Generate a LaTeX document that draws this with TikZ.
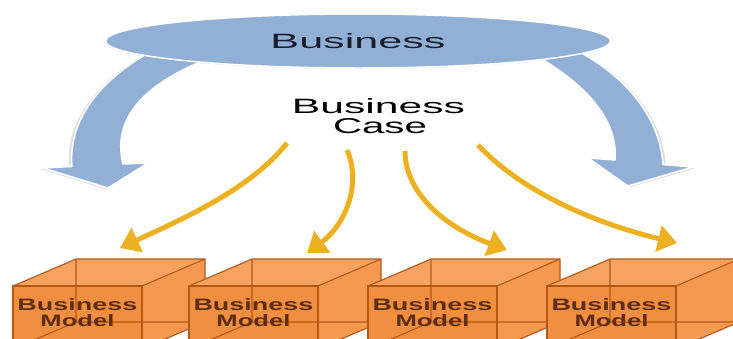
\documentclass[tikz,border=0pt]{standalone}
\usepackage{fontspec}
\setmainfont{Liberation Sans}
\usetikzlibrary{arrows.meta,shadows,shapes.geometric}
\definecolor{bizblue}{RGB}{146,176,213}
\definecolor{caseyellow}{RGB}{236,176,32}
\definecolor{boxorange}{RGB}{242,142,64}
\definecolor{boxtop}{RGB}{246,162,96}
\definecolor{boxside}{RGB}{245,152,80}
\definecolor{boxedge}{RGB}{180,88,24}
\definecolor{boxtext}{RGB}{95,45,20}
\definecolor{titletext}{RGB}{25,30,45}

\begin{document}
\begin{tikzpicture}[x=1pt,y=-1pt,
  bluearrow/.style={fill=bizblue,draw=white,line width=1.5pt,line join=round},
  caselink/.style={draw=caseyellow,line width=5pt,
    -{Triangle[width=26pt,length=19pt]}},
  facefill/.style={fill=#1},
  cubeedge/.style={draw=boxedge,line width=1.1pt},
  hiddenedge/.style={draw=boxedge,line width=1.1pt},
  boxlabel/.style={inner sep=0pt,anchor=base,text=boxtext,font=\bfseries},
  caselabel/.style={inner sep=0pt,anchor=base,text=black}]
\useasboundingbox (0,0) rectangle (733,338);
\clip (0,0) rectangle (733,338);

% curved blue arrows leaving the business ellipse
\path[bluearrow,drop shadow={opacity=0.25,shadow xshift=-3pt,shadow yshift=-1pt}]
  (150,52) .. controls (100,80) and (68,120) .. (72,166.5)
  -- (43,168) -- (108,188) -- (148,163) -- (123,164)
  .. controls (113,125) and (135,88) .. (205,60) -- cycle;
\path[bluearrow,drop shadow={opacity=0.25,shadow xshift=3pt,shadow yshift=-1pt}]
  (540,58) .. controls (590,88) and (618,122) .. (615,160)
  -- (588,158) -- (628,186) -- (693,167) -- (663,164.5)
  .. controls (660,120) and (630,80) .. (580,52) -- cycle;

% business ellipse
\node[ellipse,fill=bizblue,draw=white,line width=1.5pt,
  minimum width=505pt,minimum height=54pt,inner sep=0pt,
  drop shadow={opacity=0.2,shadow xshift=-1pt,shadow yshift=-1pt},
  text=titletext] (biz) at (358,41) {\resizebox{175pt}{15pt}{Business}};

% business case label
\node[caselabel] (case) at (378.5,113) {\resizebox{173pt}{15pt}{Business}};
\node[caselabel] (case2) at (380,133) {\resizebox{94pt}{15pt}{Case}};

% see-through cubes for the business models
\foreach \i/\L in {1/13,2/189,3/368,4/547} {
  \begin{scope}[shift={(\L,286)}]
    \path[facefill=boxtop] (0,0) -- (63,-27) -- (192,-27) -- (129,0) -- cycle;
    \path[facefill=boxside] (129,0) -- (192,-27) -- (192,36) -- (129,63) -- cycle;
    \path[facefill=boxorange] (0,0) rectangle (129,63);
    % back edges, visible through the faces
    \path[hiddenedge] (63,-27) -- (63,36) -- (192,36) (0,63) -- (63,36);
    % outer edges
    \path[cubeedge] (0,0) -- (63,-27) -- (192,-27) -- (192,36) -- (129,63)
      (129,0) -- (192,-27);
    \path[cubeedge] (0,0) rectangle (129,63);
    \node[boxlabel] (m\i) at (64.5,24) {\resizebox{120pt}{12pt}{Business}};
    \node[boxlabel] (n\i) at (64.5,40) {\resizebox{74pt}{12pt}{Model}};
  \end{scope}
}

% yellow arrows from the business case down to the models
\coordinate (s1) at (287,143);
\coordinate (s2) at (347,150);
\coordinate (s3) at (405,151);
\coordinate (s4) at (478,145);
\coordinate (e1) at (120,248);
\coordinate (e2) at (307,253);
\coordinate (e3) at (507,250);
\coordinate (e4) at (677,243);
\draw[caselink] (s1) .. controls (250,190) and (180,220) .. (e1);
\draw[caselink] (s2) .. controls (362,185) and (345,225) .. (e2);
\draw[caselink] (s3) .. controls (405,190) and (440,225) .. (e3);
\draw[caselink] (s4) .. controls (520,190) and (590,222) .. (e4);
\end{tikzpicture}
\end{document}
